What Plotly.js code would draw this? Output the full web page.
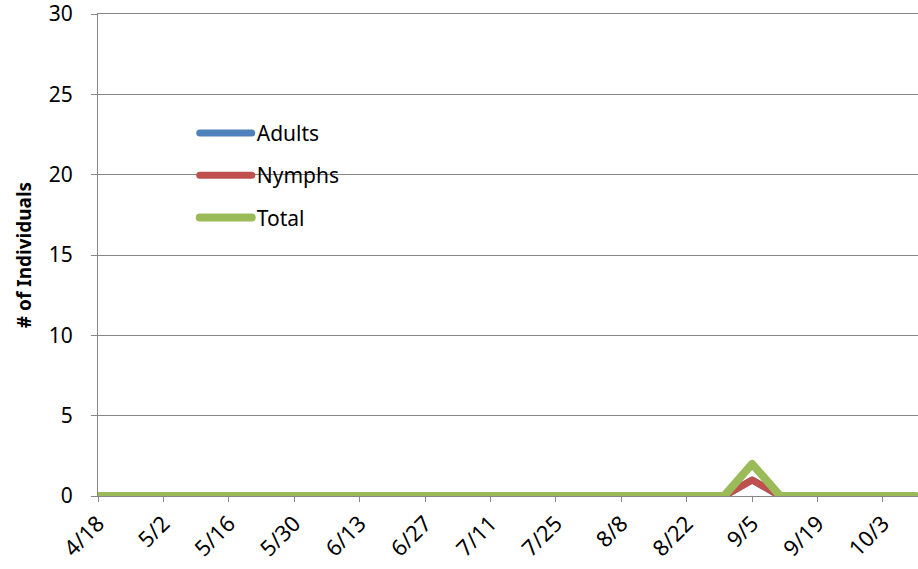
<!DOCTYPE html>
<html><head><meta charset="utf-8">
<script src="https://cdn.plot.ly/plotly-3.0.1.min.js"></script>
<style>
html,body{margin:0;padding:0;background:#fff;}
#chart{width:918px;height:569px;}
.js-line{stroke-linejoin:round !important;stroke-linecap:round;}
</style></head>
<body><div id="chart"></div>
<script>
const dates = ['2013-04-18','2013-04-25','2013-05-02','2013-05-09','2013-05-16','2013-05-23','2013-05-30',
  '2013-06-06','2013-06-13','2013-06-20','2013-06-27','2013-07-04','2013-07-11','2013-07-18','2013-07-25',
  '2013-08-01','2013-08-08','2013-08-15','2013-08-22','2013-08-30','2013-09-05','2013-09-11','2013-09-19',
  '2013-09-26','2013-10-03','2013-10-10'];
const adults = [0,0,0,0,0,0,0,0,0,0,0,0,0,0,0,0,0,0,0,0,1,0,0,0,0,0];
const nymphs = [0,0,0,0,0,0,0,0,0,0,0,0,0,0,0,0,0,0,0,0,1,0,0,0,0,0];
const total  = [0,0,0,0,0,0,0,0,0,0,0,0,0,0,0,0,0,0,0,0,2,0,0,0,0,0];
const seriesNames = ['Adults','Nymphs','Total'];
const yTicks = [0,5,10,15,20,25,30];
const yTitle = '# of Individuals';

const colors = ['#4F81BD','#C0504D','#9BBB59'];
const widths = [7,7,8];
const vals = [adults, nymphs, total];
const traces = vals.map((v,i)=>({
  x: dates, y: v, name: seriesNames[i], type:'scatter', mode:'lines',
  line:{color:colors[i], width:widths[i]}, legendgroup:'g'+i
}));

const layout = {
  width:918, height:569,
  margin:{l:98, r:0, t:14, b:73},
  paper_bgcolor:'#fff', plot_bgcolor:'#fff',
  font:{family:'"Noto Sans", "Liberation Sans", sans-serif', color:'#000'},
  showlegend:true,
  legend:{x:0.118, y:0.795, xanchor:'left', yanchor:'top', font:{size:21},
    tracegroupgap:12, bgcolor:'rgba(0,0,0,0)', itemwidth:52},
  xaxis:{type:'date', range:['2013-04-18','2013-10-10 12:00'],
    tick0:'2013-04-18', dtick:14*86400000, tickformat:'%-m/%-d',
    tickangle:-45, tickfont:{size:22}, ticks:'outside', ticklen:5, tickcolor:'#868686',
    ticklabeloverflow:'allow', mirror:true,
    showline:true, linecolor:'#868686', showgrid:false, zeroline:false},
  yaxis:{range:[0,30.0001], tickmode:'array', tickvals:yTicks, tickfont:{size:21}, ticks:'outside', ticklen:6, tickcolor:'#868686',
    ticklabeloverflow:'allow',
    showline:true, linecolor:'#868686', gridcolor:'#868686', gridwidth:1, zeroline:false,
    ticklabelstandoff:14,
    title:{text:yTitle, font:{size:19, weight:'bold'}, standoff:12}}
};
Plotly.newPlot('chart', traces, layout, {displayModeBar:false});
</script></body></html>
